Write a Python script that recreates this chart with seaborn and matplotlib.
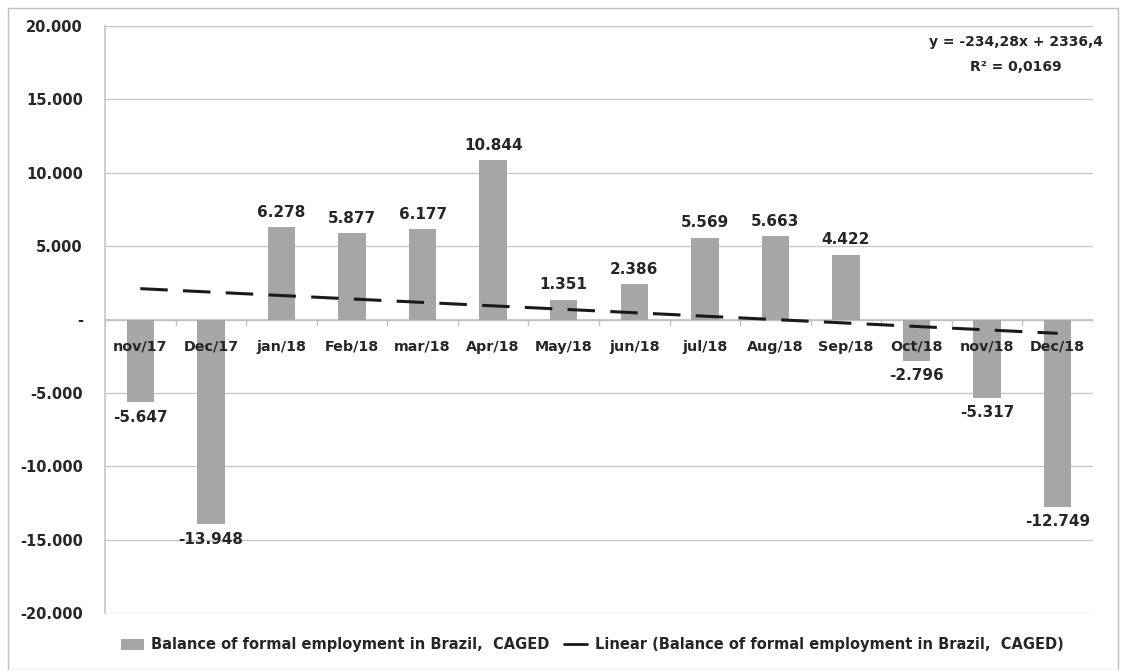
import numpy as np
import pandas as pd
import matplotlib
matplotlib.use("Agg")
import matplotlib.pyplot as plt
import seaborn as sns
from matplotlib.patches import Rectangle, Patch
from matplotlib.lines import Line2D

months = ["nov/17", "Dec/17", "jan/18", "Feb/18", "mar/18", "Apr/18", "May/18",
          "jun/18", "jul/18", "Aug/18", "Sep/18", "Oct/18", "nov/18", "Dec/18"]
balance = [-5647, -13948, 6278, 5877, 6177, 10844, 1351,
           2386, 5569, 5663, 4422, -2796, -5317, -12749]
trend_slope = -234.28
trend_intercept = 2336.4
trend_r2 = 0.0169
y_ticks = [20000, 15000, 10000, 5000, 0, -5000, -10000, -15000, -20000]
series_name = "Balance of formal employment in Brazil,  CAGED"

sns.set_theme(style="white")
plt.rcParams["font.family"] = ["DejaVu Sans"]

df = pd.DataFrame({"month": months, "balance": balance})

fig = plt.figure(figsize=(11.26, 6.70), dpi=100)
W, H = 1126, 670
ax = fig.add_axes([105 / W, 1 - 613 / H, (1093 - 105) / W, (613 - 26) / H])

sns.barplot(data=df, x="month", y="balance", color="#a6a6a6", width=0.39,
            saturation=1, linewidth=0, ax=ax, zorder=2)

# linear trend over positions 1..n
xs = np.arange(1, len(months) + 1)
trend = trend_slope * xs + trend_intercept
ax.plot(xs - 1, trend, color="#1a1a1a", lw=2.2, dashes=(9, 5), zorder=3)

ax.set_ylim(-20000, 20000)
ax.set_xlim(-0.5, len(months) - 0.5)
ax.set_yticks(y_ticks)


def fmt(v):
    if v == 0:
        return "-"
    return f"{v:,.0f}".replace(",", ".")


ax.set_yticklabels([fmt(v) for v in y_ticks], fontsize=10.5, fontweight="bold",
                   color="#262626")
ax.tick_params(axis="y", length=0, pad=16)
ax.set_xlabel("")
ax.set_ylabel("")
ax.set_xticks([])
ax.grid(axis="y", color="#c8c8c8", lw=1, zorder=0)
for s in ["top", "right", "bottom"]:
    ax.spines[s].set_visible(False)
ax.spines["left"].set_color("#c8c8c8")

# zero axis with category boundary ticks
ax.axhline(0, color="#bfbfbf", lw=1.2, zorder=1)
for b in np.arange(-0.5, len(months), 1.0):
    ax.plot([b, b], [0, -400], color="#bfbfbf", lw=1, zorder=1)

# category labels sitting just below the zero line
for i, m in enumerate(months):
    ax.text(i, -1850, m, ha="center", va="center", fontsize=10.3,
            fontweight="bold", color="#262626", zorder=4)

# value labels
for i, v in enumerate(balance):
    if v >= 0:
        ax.text(i, v + 500, fmt(v), ha="center", va="bottom", fontsize=11,
                fontweight="bold", color="#262626", zorder=4)
    else:
        ax.text(i, v - 500, fmt(v), ha="center", va="top", fontsize=11,
                fontweight="bold", color="#262626", zorder=4)

# trend equation
eq = f"y = {trend_slope:.2f}x + {trend_intercept:.1f}".replace(".", ",")
r2 = f"R² = {trend_r2:.4f}".replace(".", ",")
fig.text(1016 / W, 1 - 35 / H, eq + "\n" + r2, ha="center", va="top",
         fontsize=10, fontweight="bold", color="#262626", linespacing=2.0)

# legend
handles = [Patch(facecolor="#a6a6a6", edgecolor="none"),
           Line2D([0], [0], color="#1a1a1a", lw=2)]
labels = [series_name, "Linear (" + series_name + ")"]
fig.legend(handles, labels, loc="center", bbox_to_anchor=(592 / W, 1 - 645 / H),
           ncol=2, frameon=False, handlelength=1.6,
           columnspacing=1.0, handletextpad=0.5,
           prop={"weight": "bold", "size": 10.5})

# outer chart border
fig.add_artist(Rectangle((8 / W, 0), (1118 - 8) / W, 1 - 8 / H,
                         transform=fig.transFigure, fill=False,
                         edgecolor="#bfbfbf", lw=1))

fig.savefig("out.png", dpi=100)
